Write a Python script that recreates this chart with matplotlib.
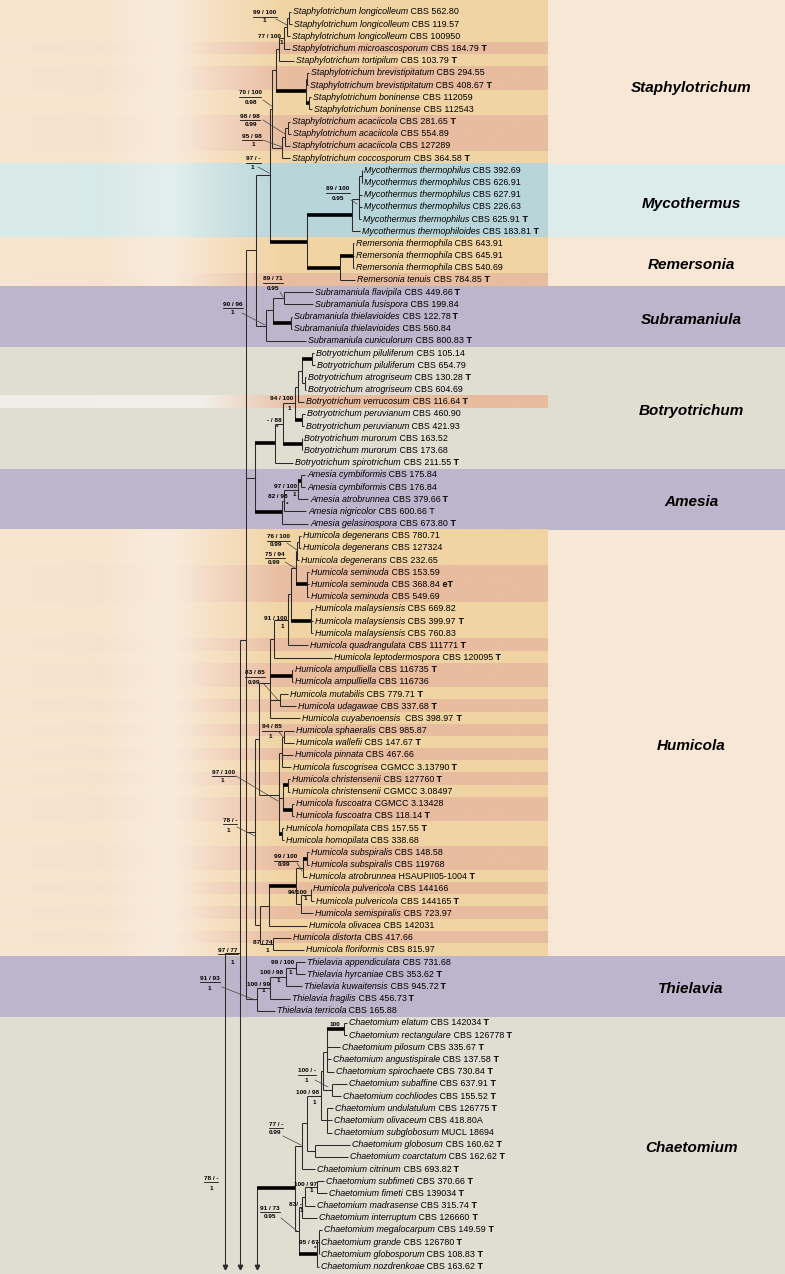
import matplotlib
matplotlib.use("Agg")
import matplotlib.pyplot as plt
import numpy as np
from matplotlib.colors import to_rgb

plt.rcParams['font.family'] = ['Liberation Sans', 'DejaVu Sans']

# ---------------- data ----------------
species = (
    ["Staphylotrichum longicolleum"] * 3 + ["Staphylotrichum microascosporum", "Staphylotrichum tortipilum"]
    + ["Staphylotrichum brevistipitatum"] * 2 + ["Staphylotrichum boninense"] * 2
    + ["Staphylotrichum acaciicola"] * 3 + ["Staphylotrichum coccosporum"]
    + ["Mycothermus thermophilus"] * 5 + ["Mycothermus thermophiloides"]
    + ["Remersonia thermophila"] * 3 + ["Remersonia tenuis"]
    + ["Subramaniula flavipila", "Subramaniula fusispora"] + ["Subramaniula thielavioides"] * 2
    + ["Subramaniula cuniculorum"]
    + ["Botryotrichum piluliferum"] * 2 + ["Botryotrichum atrogriseum"] * 2 + ["Botryotrichum verrucosum"]
    + ["Botryotrichum peruvianum"] * 2 + ["Botryotrichum murorum"] * 2 + ["Botryotrichum spirotrichum"]
    + ["Amesia cymbiformis"] * 2 + ["Amesia atrobrunnea", "Amesia nigricolor", "Amesia gelasinospora"]
    + ["Humicola degenerans"] * 3 + ["Humicola seminuda"] * 3 + ["Humicola malaysiensis"] * 3
    + ["Humicola quadrangulata", "Humicola leptodermospora"] + ["Humicola ampulliella"] * 2
    + ["Humicola mutabilis", "Humicola udagawae", "Humicola cuyabenoensis", "Humicola sphaeralis",
       "Humicola wallefii", "Humicola pinnata", "Humicola fuscogrisea"]
    + ["Humicola christensenii"] * 2 + ["Humicola fuscoatra"] * 2 + ["Humicola homopilata"] * 2
    + ["Humicola subspiralis"] * 2 + ["Humicola atrobrunnea"] + ["Humicola pulvericola"] * 2
    + ["Humicola semispiralis", "Humicola olivacea", "Humicola distorta", "Humicola floriformis"]
    + ["Thielavia appendiculata", "Thielavia hyrcaniae", "Thielavia kuwaitensis", "Thielavia fragilis",
       "Thielavia terricola"]
    + ["Chaetomium elatum", "Chaetomium rectangulare", "Chaetomium pilosum", "Chaetomium angustispirale",
       "Chaetomium spirochaete", "Chaetomium subaffine", "Chaetomium cochliodes", "Chaetomium undulatulum",
       "Chaetomium olivaceum", "Chaetomium subglobosum", "Chaetomium globosum", "Chaetomium coarctatum",
       "Chaetomium citrinum", "Chaetomium subfimeti", "Chaetomium fimeti", "Chaetomium madrasense",
       "Chaetomium interruptum", "Chaetomium megalocarpum", "Chaetomium grande", "Chaetomium globosporum",
       "Chaetomium nozdrenkoae"]
)

strains = [
    "CBS 562.80", "CBS 119.57", "CBS 100950", "CBS 184.79", "CBS 103.79", "CBS 294.55", "CBS 408.67",
    "CBS 112059", "CBS 112543", "CBS 281.65", "CBS 554.89", "CBS 127289", "CBS 364.58",
    "CBS 392.69", "CBS 626.91", "CBS 627.91", "CBS 226.63", "CBS 625.91", "CBS 183.81",
    "CBS 643.91", "CBS 645.91", "CBS 540.69", "CBS 784.85",
    "CBS 449.66", "CBS 199.84", "CBS 122.78", "CBS 560.84", "CBS 800.83",
    "CBS 105.14", "CBS 654.79", "CBS 130.28", "CBS 604.69", "CBS 116.64", "CBS 460.90", "CBS 421.93",
    "CBS 163.52", "CBS 173.68", "CBS 211.55",
    "CBS 175.84", "CBS 176.84", "CBS 379.66", "CBS 600.66", "CBS 673.80",
    "CBS 780.71", "CBS 127324", "CBS 232.65", "CBS 153.59", "CBS 368.84", "CBS 549.69", "CBS 669.82",
    "CBS 399.97", "CBS 760.83", "CBS 111771", "CBS 120095", "CBS 116735", "CBS 116736", "CBS 779.71",
    "CBS 337.68", " CBS 398.97", "CBS 985.87", "CBS 147.67", "CBS 467.66", "CGMCC 3.13790", "CBS 127760",
    "CGMCC 3.08497", "CGMCC 3.13428", "CBS 118.14", "CBS 157.55", "CBS 338.68", "CBS 148.58", "CBS 119768",
    "HSAUPII05-1004", "CBS 144166", "CBS 144165", "CBS 723.97", "CBS 142031", "CBS 417.66", "CBS 815.97",
    "CBS 731.68", "CBS 353.62", "CBS 945.72", "CBS 456.73", "CBS 165.88",
    "CBS 142034", "CBS 126778", "CBS 335.67", "CBS 137.58", "CBS 730.84", "CBS 637.91", "CBS 155.52",
    "CBS 126775", "CBS 418.80A", "MUCL 18694", "CBS 160.62", "CBS 162.62", "CBS 693.82", "CBS 370.66",
    "CBS 139034", "CBS 315.74", "CBS 126660", "CBS 149.59", "CBS 126780", "CBS 108.83", "CBS 163.62",
]

# 'T' bold type, 'eT' bold epitype, 't' plain T
types = (
    ["", "", "", "T", "T", "", "T", "", "", "T", "", "", "T"]
    + ["", "", "", "", "T", "T"]
    + ["", "", "", "T"]
    + ["T", "", "T", "", "T"]
    + ["", "", "T", "", "T", "", "", "", "", "T"]
    + ["", "", "T", "t", "T"]
    + ["", "", "", "", "eT", "", "", "T", "", "T", "T", "T", "", "T", "T", "T", "", "T", "", "T",
       "T", "", "", "T", "T", "", "", "", "T", "", "T", "", "", "", ""]
    + ["", "T", "T", "T", ""]
    + ["T", "T", "T", "T", "T", "T", "T", "T", "", "", "T", "T", "T", "T", "T", "T", "T", "T", "T", "T", "T"]
)

# label start (tip depth) of every terminal
tip_x = [
    293, 294, 292, 292, 296, 311, 310, 313, 314, 292, 293, 292, 292,
    364, 364, 364, 364, 363, 362,
    356, 356, 356, 357,
    315, 315, 294, 294, 308,
    316, 317, 308, 308, 306, 307, 306, 304, 304, 295,
    307, 307, 310, 308, 310,
    303, 303, 301, 311, 311, 311, 315, 315, 315, 310, 334, 295, 295, 290, 298, 302, 296, 296, 295,
    293, 292, 292, 296, 296, 286, 286, 311, 311, 309, 313, 316, 315, 309, 293, 306,
    307, 307, 304, 292, 277,
    349, 349, 342, 333, 336, 349, 343, 335, 334, 334, 352, 350, 317, 326, 329, 317, 319, 324, 321, 321, 321,
]

# row highlight: o = ochre, s = salmon, m = teal, - = none
row_shade = list(
    "ooosossoossso"
    + "mmmmmm" + "ooos" + "-----" + "----s-----" + "-----"
    + "ooosssooosossososososossoossosososo" + "-----" + "-" * 21
)

clades = [  # name, first row, last row, band colour
    ("Staphylotrichum", 0, 12, "#f8e7d5"),
    ("Mycothermus", 13, 18, "#dcecea"),
    ("Remersonia", 19, 22, "#f8e7d5"),
    ("Subramaniula", 23, 27, "#bdb5cb"),
    ("Botryotrichum", 28, 37, "#e0ddd1"),
    ("Amesia", 38, 42, "#bdb5cb"),
    ("Humicola", 43, 77, "#f8e7d5"),
    ("Thielavia", 78, 82, "#bdb5cb"),
    ("Chaetomium", 83, 103, "#e0ddd1"),
]
shade_col = {"o": "#f1d4a3", "s": "#e8bc9f", "m": "#b8d5d9"}


# ---------------- tree (node depths) ----------------
def N(x, kids, thick=False):
    return {"x": x, "kids": kids, "thick": thick}


DOWN = None  # lineage continuing below the figure

# Staphylotrichum
st_n1 = N(289, [0, 1]); st_n2 = N(287, [st_n1, 2]); st_n3 = N(284, [st_n2, 3]); st_n4 = N(279, [st_n3, 4])
st_bb = N(306, [N(307, [5, 6]), N(309, [7, 8], True)], True)
st_n5 = N(276, [st_n4, st_bb])
st_a1 = N(288, [9, 10]); st_a2 = N(285, [st_a1, 11]); st_a3 = N(282, [st_a2, 12])
staph = N(272, [st_n5, st_a3])
# Mycothermus / Remersonia
myco = N(352, [N(359, [N(362, [13, 14]), 15, 16, 17]), 18], True)
remer = N(340, [N(353, [19, 20, 21], True), 22], True)
myrem = N(307, [myco, remer], True)
smr = N(270, [staph, myrem])
# Subramaniula
subr = N(266, [N(273, [N(284, [23, 24]), N(291, [25, 26], True)]), 27])
bb1 = N(256, [smr, subr])
# Botryotrichum
bo_d = N(302, [N(312, [28, 29], True), N(305, [30, 31])])
bo_e = N(298, [bo_d, 32])
bo_f = N(295, [bo_e, N(302, [33, 34], True)])
bo_g = N(283, [bo_f, N(302, [35, 36], True)])
botry = N(275, [bo_g, 37], True)
# Amesia
am_i = N(298, [N(301, [38, 39], True), 40])
amesia = N(282, [N(284, [am_i, 41]), 42], True)
bot_am = N(255, [botry, amesia])
# Humicola
hu_deg = N(297, [N(299, [43, 44]), 45])
hu_m = N(296, [hu_deg, N(307, [46, 47, 48], True)])
hu_n = N(291, [hu_m, N(311, [49, 50, 51], True)])
hu_o = N(288, [hu_n, 52])
hu_p = N(274, [hu_o, 53])
hu_q = N(270, [hu_p, N(292, [54, 55], True), N(280, [56, 57]), 58])
hu_u = N(282, [N(284, [59, 60]), 61, 62])
hu_v = N(283, [N(288, [63, 64], True), N(292, [65, 66], True)])
hu_w = N(279, [hu_u, hu_v, N(282, [67, 68], True)])
hu_s2 = N(259, [hu_q, hu_w])
hu_x = N(303, [N(307, [69, 70], True), 71])
hu_y = N(301, [N(311, [72, 73]), 74])
hu_aa = N(269, [N(296, [hu_x, hu_y], True), 75])
hu_cc = N(260, [hu_aa, N(273, [76, 77])])
humicola = N(255, [hu_s2, hu_cc])
# Thielavia
thiel = N(257, [N(270, [N(286, [N(296, [78, 79]), 80]), 81]), 82])
# backbone
bb_a = N(246, [bb1, bot_am, humicola, thiel])
bb_b = N(240, [bb_a, DOWN])
root1 = N(225, [bb_b, DOWN])
# Chaetomium
ch_a = N(327, [N(344, [83, 84], True), 85, 86, 87])
ch_b = N(323, [ch_a, N(332, [88, 89])])
ch_c = N(321, [ch_b, N(327, [90, 91, 92])])
ch_d = N(307, [ch_c, N(315, [93, 94])])
ch_e = N(302, [ch_d, 95])
ch_g = N(302, [N(305, [N(317, [96, 97]), 98]), 99])
ch_mo = N(317, [N(319, [100, 101, 102]), 103], True)
ch_f = N(299, [ch_g, ch_mo])
chaet = N(295, [ch_e, ch_f], True)
root2 = N(257, [chaet, DOWN])

# support values: top text, (x, y), bottom text, (x, y), fraction bar, pointer
supports = [
    ("99 / 100", 265, 12.5, "1", 264, 21, True, (276, 19, 287, 25)),
    ("77 / 100", 269.5, 36, "1", 281, 43, False, None),
    ("70 / 100", 250, 93, "0.98", 251, 102.5, True, (263, 100, 273, 107)),
    ("98 / 98", 250, 116, "0.99", 251, 125, True, (263, 120, 285, 134)),
    ("95 / 98", 252, 136, "1", 253, 144, True, (263, 140, 282, 147)),
    ("97 / -", 253.5, 159, "1", 252, 167.5, True, (258, 167, 269, 173)),
    ("89 / 100", 338, 189, "0.95", 338, 198, True, (351, 200, 357, 204)),
    ("89 / 71", 273, 279, "0.95", 273, 288, True, (280, 292, 283, 297)),
    ("90 / 96", 233, 304, "1", 232, 313, True, (242, 313, 265, 325)),
    ("94 / 100", 281.5, 399, "1", 289, 408, False, None),
    ("- / 88", 274, 420, "*", 277, 427, False, None),
    ("97 / 100", 285, 487, "1", 294, 495, False, None),
    ("82 / 98", 278, 497, "*", 287, 504, False, None),
    ("76 / 100", 278.5, 537, "0.99", 276.5, 545, True, (287, 543, 297, 550)),
    ("75 / 94", 275, 554, "0.99", 273.5, 562, True, (285, 562, 295, 568)),
    ("91 / 100", 275.5, 618, "1", 282, 626, False, None),
    ("83 / 85", 255, 673, "0.99", 254.5, 682, True, (263, 683, 278, 700)),
    ("94 / 85", 272, 727, "1", 270, 736, True, (279, 732, 283, 737)),
    ("97 / 100", 223, 772, "1", 222, 781, True, (236, 776, 278, 801)),
    ("78 / -", 230, 820, "1", 228, 830, True, (237, 827, 255, 836)),
    ("99 / 100", 286, 857, "0.99", 284.5, 865, True, (297, 863, 302, 871)),
    ("94/100", 298, 892, "1", 305, 899, False, None),
    ("87 / 74", 262.5, 942, "1", 267, 950, False, None),
    ("97 / 77", 228, 950, "1", 232, 962, True, None),
    ("99 / 100", 282.5, 962, "1", 290, 972, False, None),
    ("100 / 98", 271.5, 973, "1", 278, 980, False, None),
    ("100 / 99", 258.5, 984, "1", 263, 991, False, None),
    ("91 / 93", 210, 978, "1", 209, 988, True, (222, 987, 255, 1000)),
    ("100", 335, 1024, "", 0, 0, False, None),
    ("100 / -", 307, 1071, "1", 306, 1080, True, (315, 1080, 328, 1087)),
    ("100 / 98", 307.5, 1093, "1", 314, 1103, False, None),
    ("77 / -", 276, 1124, "0.99", 275, 1133, True, (283, 1136, 301, 1145)),
    ("100 / 97", 306, 1184, "1", 311, 1191, False, None),
    ("83/ -", 295, 1204, "1", 301, 1210, False, None),
    ("91 / 73", 270, 1208, "0.95", 270, 1217, True, (281, 1218, 297, 1231)),
    ("95 / 67", 308.5, 1242, "*", 315, 1248, False, None),
    ("78 / -", 211, 1178, "1", 211, 1188, True, None),
]

# ---------------- layout ----------------
W, H = 785, 1274
ROW0, ROWH = 12.0, 12.18
HL_RIGHT = 548
ARROW_Y = 1266
FS = 6.4
SFS = 4.6


def row_y(i):
    return ROW0 + i * ROWH


fig = plt.figure(figsize=(W / 100, H / 100), dpi=100)
ax = fig.add_axes([0, 0, 1, 1])
ax.set_xlim(0, W)
ax.set_ylim(H, 0)
ax.axis("off")

# backgrounds
xs = np.linspace(0, HL_RIGHT, 400)


def gradient(stops):
    sx = [s[0] for s in stops]
    cols = np.array([to_rgb(s[1]) for s in stops])
    out = np.stack([np.interp(xs, sx, cols[:, c]) for c in range(3)], axis=-1)
    return out[None, :, :]


def mix(c1, c2, f):
    a = np.array(to_rgb(c1)); b = np.array(to_rgb(c2))
    return tuple(a * (1 - f) + b * f)


for k, (name, r0, r1, col) in enumerate(clades):
    top = 0 if k == 0 else row_y(r0) - ROWH / 2
    bot = H if k == len(clades) - 1 else row_y(r1) + ROWH / 2
    ax.add_patch(plt.Rectangle((0, top), W, bot - top, color=col, lw=0, zorder=0))
    for i in range(r0, r1 + 1):
        s = row_shade[i]
        if s == "-":
            continue
        yt = top if i == r0 else row_y(i) - ROWH / 2
        yb = bot if i == r1 else row_y(i) + ROWH / 2
        rc = shade_col[s]
        if col.startswith("#e0"):
            stops = [(0, "#efeee8"), (200, "#f2f0eb"), (300, rc), (HL_RIGHT, rc)]
        else:
            stops = [(0, mix(col, rc, 0.08)), (100, mix(col, rc, 0.12)), (170, mix(col, "#ffffff", 0.18)),
                     (215, mix(col, rc, 0.35)), (285, rc), (HL_RIGHT, rc)]
        img = gradient(stops)
        ax.imshow(img, extent=[0, HL_RIGHT, yb, yt], aspect="auto", interpolation="bilinear", zorder=0.5)
    ax.text(691, (row_y(r0) + row_y(r1)) / 2 + 3, name, fontsize=11, fontweight="bold",
            style="italic", ha="center", va="center", zorder=5)

ax.set_xlim(0, W)
ax.set_ylim(H, 0)

# tree
LW, TLW = 0.75, 2.6
LC = "#2a2a2a"


def draw(n):
    if isinstance(n, int):
        return tip_x[n] - 2.0, row_y(n)
    kids = []
    for c in n["kids"]:
        if c is None:
            kids.append((n["x"], ARROW_Y, False, True))
        else:
            cx, cy = draw(c)
            kids.append((cx, cy, isinstance(c, dict) and c["thick"], False))
    ys = [k[1] for k in kids]
    x = n["x"]
    ax.plot([x, x], [min(ys), max(ys)], color=LC, lw=LW, zorder=2, solid_capstyle="butt")
    for cx, cy, thick, down in kids:
        if down:
            ax.plot([x], [ARROW_Y + 1], marker="v", ms=3.2, color=LC, zorder=3)
        else:
            ax.plot([x, cx], [cy, cy], color="black" if thick else LC, lw=TLW if thick else LW,
                    zorder=3 if thick else 2, solid_capstyle="butt")
    return x, float(np.mean(ys))


draw(root1)
draw(root2)

# tip labels
for i in range(len(species)):
    t1 = ax.text(tip_x[i], row_y(i), species[i], style="italic", fontsize=FS, va="center", ha="left",
                 zorder=4)
    t2 = ax.annotate(" " + strains[i], xy=(1, 0), xycoords=t1, va="bottom", ha="left", fontsize=FS,
                     zorder=4)
    if types[i]:
        bold = types[i] != "t"
        ax.annotate(" " + types[i].upper() if types[i] == "t" else " " + types[i], xy=(1, 0),
                    xycoords=t2, va="bottom", ha="left", fontsize=FS,
                    fontweight="bold" if bold else "normal", zorder=4)

# support values
renderer = fig.canvas.get_renderer()
inv = ax.transData.inverted()
for top, tx, ty, bot, bx, by, bar, ptr in supports:
    t = ax.text(tx, ty, top, fontsize=SFS, fontweight="bold", ha="center", va="center", zorder=6)
    if bar:
        bb = t.get_window_extent(renderer).transformed(inv)
        ax.plot([min(bb.x0, bb.x1), max(bb.x0, bb.x1)], [ty + 4.3, ty + 4.3], color="black", lw=0.55,
                zorder=6)
    if bot:
        ax.text(bx, by, bot, fontsize=SFS, fontweight="bold", ha="center", va="center", zorder=6)
    if ptr:
        ax.plot([ptr[0], ptr[2]], [ptr[1], ptr[3]], color="#444444", lw=0.5, zorder=6)

fig.savefig("out.png", dpi=100)
